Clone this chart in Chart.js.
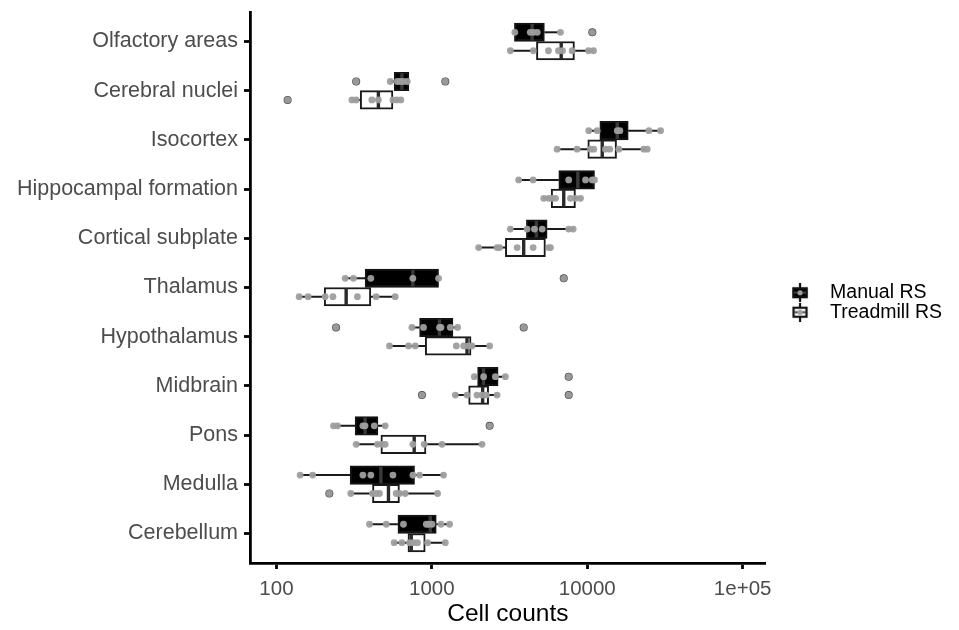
<!DOCTYPE html>
<html>
<head>
<meta charset="utf-8">
<script src="https://cdn.jsdelivr.net/npm/chart.js@4.4.1/dist/chart.umd.min.js"></script>
<style>
  html, body { margin: 0; padding: 0; background: #fff; }
</style>
</head>
<body>
<canvas id="myChart-Cells" width="959" height="630"></canvas>
<script>
const regions = ['Olfactory areas', 'Cerebral nuclei', 'Isocortex', 'Hippocampal formation',
  'Cortical subplate', 'Thalamus', 'Hypothalamus', 'Midbrain', 'Pons', 'Medulla', 'Cerebellum'];

const xTicks = [100, 1000, 10000, 100000];
const xTickLabels = ['100', '1000', '10000', '1e+05'];

// Manual RS box stats
const manualLow = [3400, 540, 10200, 3620, 3200, 277, 745, 1880, 233, 142, 397];
const manualQ1 = [3400, 572, 12050, 6560, 4060, 372, 834, 1970, 321, 298, 605];
const manualMedian = [4420, 642, 15600, 8700, 4710, 755, 1120, 2150, 372, 470, 977];
const manualQ3 = [5300, 712, 18360, 11140, 5520, 1105, 1368, 2670, 450, 774, 1068];
const manualHigh = [6725, 712, 29650, 11140, 8120, 1105, 1465, 2970, 501, 1190, 1301];

// Treadmill RS box stats
const treadLow = [3200, 306, 6400, 5250, 2000, 140, 534, 1416, 326, 301, 572];
const treadQ1 = [4710, 346, 10080, 5860, 2973, 203, 907, 1725, 470, 415, 702];
const treadMedian = [6800, 453, 12490, 7060, 3900, 281, 1684, 2123, 770, 526, 737];
const treadQ3 = [8275, 562, 15440, 8400, 5383, 405, 1788, 2320, 917, 619, 907];
const treadHigh = [10970, 632, 24330, 9050, 5800, 581, 2355, 2630, 2104, 1089, 1221];

// individual animals
const manualPoints = [
  [3420, 4300, 4500, 4770, 6725, 10780],
  [326, 540, 600, 626, 654, 695, 1221],
  [10230, 11590, 15600, 16220, 24930, 29650],
  [3620, 4485, 7600, 9750, 10760, 11140],
  [3200, 4100, 4570, 5130, 7600, 8120],
  [277, 313, 405, 755, 1105, 7060],
  [242, 745, 884, 1121, 1145, 1315, 1465, 3900],
  [1877, 2154, 2563, 2973, 7600],
  [233, 247, 360, 372, 426, 501, 2355],
  [142, 171, 360, 405, 562, 755, 834, 1190],
  [397, 509, 657, 921, 953, 1002, 1145, 1301]
];
const treadPoints = [
  [3200, 4500, 5630, 6530, 6930, 8000, 10190, 10970],
  [118, 306, 326, 411, 453, 562, 596, 632],
  [6400, 8610, 10500, 11020, 13090, 13970, 15970, 23140, 24330],
  [5250, 5650, 5950, 6250, 7800, 8400, 9050],
  [2000, 2630, 2730, 3540, 4485, 5650, 5800],
  [140, 160, 206, 231, 332, 438, 581],
  [534, 708, 782, 1437, 1602, 1725, 1814, 2355],
  [864, 1416, 1684, 1953, 2104, 2243, 2630, 7600],
  [326, 447, 477, 501, 755, 894, 1163, 2104],
  [219, 301, 416, 438, 460, 590, 619, 674, 1089],
  [572, 642, 719, 763, 809, 939, 1221]
];
const manualOutliers = [[10780], [326, 1221], [], [], [], [7060], [242, 3900], [7600], [2355], [], []];
const treadOutliers = [[], [118], [], [], [], [], [], [864, 7600], [], [219], []];

const DODGE = 0.1875;

const groups = [
  { label: 'Manual RS', offset: -DODGE, low: manualLow, q1: manualQ1, med: manualMedian, q3: manualQ3, high: manualHigh,
    fill: '#000000', edge: '#141414', medColor: '#3a3a3a' },
  { label: 'Treadmill RS', offset: DODGE, low: treadLow, q1: treadQ1, med: treadMedian, q3: treadQ3, high: treadHigh,
    fill: '#ffffff', edge: '#1a1a1a', medColor: '#2a2a2a' }
];

function toXY(lists, offset) {
  const out = [];
  lists.forEach((vals, i) => vals.forEach(v => out.push({ x: v, y: i + offset })));
  return out;
}

// legend key: small vertical boxplot glyph
function makeKey(g) {
  const c = document.createElement('canvas');
  c.width = 54; c.height = 19;
  const k = c.getContext('2d');
  const cx = 34;
  k.strokeStyle = '#111';
  k.lineWidth = 2.2;
  k.beginPath(); k.moveTo(cx, 0); k.lineTo(cx, 19); k.stroke();
  k.fillStyle = g.fill;
  k.fillRect(cx - 7.5, 4, 15, 11);
  k.strokeRect(cx - 6.5, 5, 13, 9);
  k.strokeStyle = '#444';
  k.lineWidth = 2;
  k.beginPath(); k.moveTo(cx - 6, 9.5); k.lineTo(cx + 6, 9.5); k.stroke();
  k.fillStyle = '#a0a0a0';
  k.beginPath(); k.arc(cx, 9.5, 2.6, 0, Math.PI * 2); k.fill();
  return c;
}

const boxParts = {
  id: 'boxParts',
  beforeDatasetsDraw(chart) {
    const { ctx, scales: { x, y } } = chart;
    ctx.save();
    ctx.strokeStyle = '#1a1a1a';
    ctx.lineWidth = 2;
    groups.forEach(g => {
      regions.forEach((r, i) => {
        const py = y.getPixelForValue(i + g.offset);
        ctx.beginPath();
        ctx.moveTo(x.getPixelForValue(g.low[i]), py);
        ctx.lineTo(x.getPixelForValue(g.q1[i]), py);
        ctx.moveTo(x.getPixelForValue(g.q3[i]), py);
        ctx.lineTo(x.getPixelForValue(g.high[i]), py);
        ctx.stroke();
      });
    });
    ctx.restore();
  },
  afterDatasetDraw(chart, args) {
    if (args.meta.type !== 'bar') return;
    const g = groups[args.index];
    const { ctx, scales: { x } } = chart;
    ctx.save();
    ctx.strokeStyle = g.medColor;
    ctx.lineWidth = 3.4;
    args.meta.data.forEach((bar, i) => {
      const px = x.getPixelForValue(g.med[i]);
      ctx.beginPath();
      ctx.moveTo(px, bar.y - bar.height / 2 + 1);
      ctx.lineTo(px, bar.y + bar.height / 2 - 1);
      ctx.stroke();
    });
    ctx.restore();
  }
};

Chart.defaults.font.family = '"Liberation Sans", Arial, sans-serif';

const cellChart = document.getElementById('myChart-Cells');

new Chart(cellChart, {
  type: 'bar',
  data: {
    datasets: [
      ...groups.map((g) => ({
        type: 'bar',
        label: g.label,
        data: regions.map((r, i) => ({ x: [g.q1[i], g.q3[i]], y: i + g.offset })),
        backgroundColor: g.fill,
        borderColor: g.edge,
        borderWidth: 2,
        borderSkipped: false,
        barThickness: 18.5,
        grouped: false,
        order: 3
      })),
      {
        type: 'scatter',
        label: 'manual outliers',
        data: toXY(manualOutliers, -DODGE),
        pointRadius: 4,
        pointBackgroundColor: '#444',
        pointBorderWidth: 0,
        order: 2
      },
      {
        type: 'scatter',
        label: 'treadmill outliers',
        data: toXY(treadOutliers, DODGE),
        pointRadius: 4,
        pointBackgroundColor: '#444',
        pointBorderWidth: 0,
        order: 2
      },
      {
        type: 'scatter',
        label: 'manual points',
        data: toXY(manualPoints, -DODGE),
        pointRadius: 3.4,
        pointBackgroundColor: 'rgba(158, 158, 158, 0.95)',
        pointBorderWidth: 0,
        order: 1
      },
      {
        type: 'scatter',
        label: 'treadmill points',
        data: toXY(treadPoints, DODGE),
        pointRadius: 3.4,
        pointBackgroundColor: 'rgba(158, 158, 158, 0.95)',
        pointBorderWidth: 0,
        order: 1
      }
    ]
  },
  options: {
    indexAxis: 'y',
    responsive: false,
    animation: false,
    events: [],
    layout: { padding: { top: 12, right: 7, bottom: 0, left: 0 } },
    scales: {
      x: {
        type: 'logarithmic',
        position: 'bottom',
        min: 67.6,
        max: 140900,
        afterBuildTicks: (scale) => { scale.ticks = xTicks.map(v => ({ value: v })); },
        afterFit: (scale) => { scale.height = 67; },
        ticks: {
          autoSkip: false,
          maxRotation: 0,
          padding: 8,
          color: '#4d4d4d',
          font: { size: 20.5 },
          callback: (v) => xTickLabels[xTicks.indexOf(v)]
        },
        grid: { drawOnChartArea: false, drawTicks: true, tickLength: 6, tickWidth: 2.8, tickColor: '#000' },
        border: { display: true, color: '#000', width: 2.8 },
        title: { display: true, text: 'Cell counts', color: '#000', font: { size: 24.5 }, padding: { top: 0, bottom: 1 } }
      },
      y: {
        type: 'linear',
        reverse: true,
        offset: false,
        min: -0.6,
        max: 10.6,
        afterBuildTicks: (scale) => { scale.ticks = regions.map((r, i) => ({ value: i })); },
        afterFit: (scale) => {
          scale.width = 250;
          scale.paddingTop = 0;
          scale.paddingBottom = 0;
        },
        ticks: {
          autoSkip: false,
          padding: 6,
          color: '#4d4d4d',
          font: { size: 21.5 },
          callback: (v) => regions[v]
        },
        grid: { offset: false, drawOnChartArea: false, drawTicks: true, tickLength: 6, tickWidth: 2.8, tickColor: '#000' },
        border: { display: true, color: '#000', width: 2.8 }
      }
    },
    plugins: {
      tooltip: { enabled: false },
      legend: {
        position: 'right',
        fullSize: false,
        title: { display: true, text: '', font: { size: 12 }, padding: { top: 8, bottom: 7.6 } },
        labels: {
          usePointStyle: true,
          pointStyleWidth: 54.5,
          padding: 0,
          color: '#000',
          font: { size: 19.5 },
          generateLabels: () => groups.map((g, gi) => ({
            text: g.label,
            datasetIndex: gi,
            pointStyle: makeKey(g),
            fillStyle: g.fill,
            strokeStyle: g.edge,
            fontColor: '#000',
            lineWidth: 0,
            hidden: false
          }))
        }
      }
    }
  },
  plugins: [boxParts]
});
</script>
</body>
</html>
